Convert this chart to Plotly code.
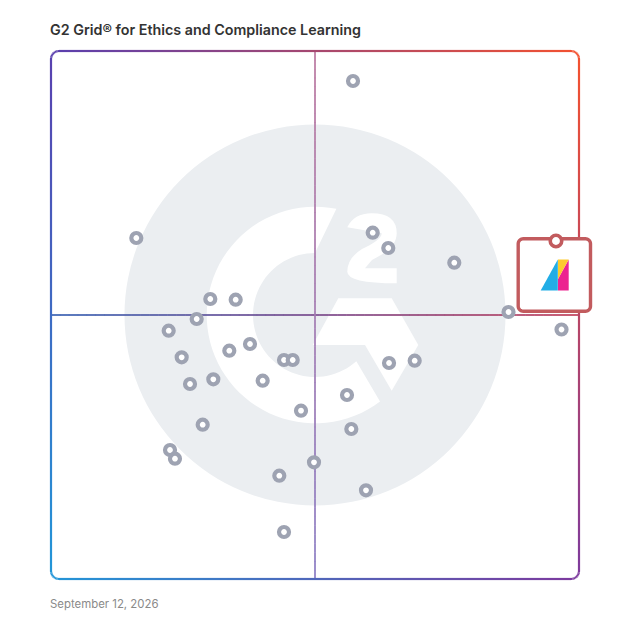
import numpy as np
import plotly.graph_objects as go

# G2 grid scores (satisfaction = x, market presence = y)
satisfaction = [57.20, 16.16, 60.93, 63.88, 76.38, 30.17, 34.98, 27.59, 22.29, 37.69, 33.77,
                24.75, 44.13, 45.78, 64.02, 68.88, 30.74, 26.33, 40.09, 56.06, 47.35, 28.73,
                56.88, 22.54, 23.48, 49.81, 43.24, 59.66, 44.13, 86.65, 96.69]
market_presence = [94.32, 64.58, 65.59, 62.69, 59.91, 53.03, 52.90, 49.24, 47.03, 44.51, 43.24,
                   41.99, 41.48, 41.48, 40.91, 41.34, 37.82, 36.93, 37.56, 34.85, 31.88, 29.22,
                   28.41, 24.43, 22.78, 22.10, 19.56, 16.80, 8.90, 50.57, 47.25]
highlight_x = [95.64]
highlight_y = [64.02]

title_text = "G2 Grid® for Ethics and Compliance Learning"
date_text = "September 12, 2026"

SIZE = 628
OFFSET = 8  # corpo da pagina tem margem de 8px
SCALE = 5.28


# pixel da imagem -> coordenada do eixo
def sx(px):
    return (px - 51) / SCALE


def sy(py):
    return (579 - py) / SCALE


def hex_rgb(c):
    return np.array([int(c[i:i + 2], 16) for i in (1, 3, 5)], dtype=float)


def mix(a, b, t):
    v = hex_rgb(a) * (1 - t) + hex_rgb(b) * t
    return "rgb(%d,%d,%d)" % tuple(v.round())


def frame_color(px, py):
    u = np.clip((px - 51) / 528, 0, 1)
    v = np.clip((py - 51) / 528, 0, 1)
    top = hex_rgb("#5a3fae") * (1 - u) + hex_rgb("#f4512f") * u
    bottom = hex_rgb("#2296d8") * (1 - u) + hex_rgb("#7c3a9e") * u
    c = top * (1 - v) + bottom * v
    return "rgb(%d,%d,%d)" % tuple(c.round())


def polygon(points):
    return "M " + " L ".join(f"{sx(x):.3f} {sy(y):.3f}" for x, y in points) + " Z"


def filled(path, color):
    return dict(type="path", path=path, fillcolor=color, line=dict(width=0), layer="below")


def segment(x0, y0, x1, y1, color, width):
    return dict(type="line", x0=sx(x0), y0=sy(y0), x1=sx(x1), y1=sy(y1), layer="below",
                line=dict(color=color, width=width))


def arc(cx, cy, r, a0, a1, n=60):
    ang = np.radians(np.linspace(a0, a1, n))
    return list(zip(cx + r * np.cos(ang), cy + r * np.sin(ang)))


def rounded_rect(x0, y0, x1, y1, r):
    pts = []
    pts += arc(x1 - r, y0 + r, r, -90, 0, 10)
    pts += arc(x1 - r, y1 - r, r, 0, 90, 10)
    pts += arc(x0 + r, y1 - r, r, 90, 180, 10)
    pts += arc(x0 + r, y0 + r, r, 180, 270, 10)
    return pts


shapes = []

# marca d'agua G2
shapes.append(dict(type="circle", x0=sx(124.5), x1=sx(505.5), y0=sy(124.5), y1=sy(505.5),
                   fillcolor="#ebeef1", line=dict(width=0), layer="below"))
g_outer = arc(315, 315, 108.3, -78.6, -306.9)
g_inner = arc(315, 315, 62, -311.8, -90)
shapes.append(filled(polygon(g_outer + g_inner), "#ffffff"))
shapes.append(filled(polygon([(338.3, 298.3), (391.7, 298.3), (418.3, 345), (391.7, 390.7),
                              (365, 345), (312.7, 345)]), "#ffffff"))
two = ("M {} {} Q {} {} {} {} Q {} {} {} {} Q {} {} {} {} L {} {} L {} {} L {} {} L {} {} "
       "Q {} {} {} {} Q {} {} {} {} Q {} {} {} {} Z")
two_pts = [(347.3, 227.3), (354, 213.3), (371.7, 213.3), (396.7, 213.3), (396.7, 233.3),
           (396.7, 246), (381, 255), (372, 260), (365, 268.3), (396.7, 268.3), (396.7, 283.3),
           (347.3, 283.3), (347.3, 271.7), (347.3, 258), (362, 249), (381.7, 240), (381.7, 233.3),
           (381.7, 227.3), (371.7, 227.3), (362, 227.3), (356.7, 236.7)]
flat = [f"{v:.3f}" for x, y in two_pts for v in (sx(x), sy(y))]
shapes.append(filled(two.format(*flat), "#ffffff"))

# cruz central
xs_h = np.linspace(51, 579, 60)
for a, b in zip(xs_h[:-1], xs_h[1:]):
    t = (a - 51) / 528
    c = mix("#3c64b4", "#7a4a8c", t * 2) if t < 0.5 else mix("#7a4a8c", "#c2405a", t * 2 - 1)
    shapes.append(segment(a, 315, b + 0.3, 315, c, 1.7))
ys_v = np.linspace(51, 579, 60)
for a, b in zip(ys_v[:-1], ys_v[1:]):
    t = (a - 51) / 528
    shapes.append(segment(315, a, 315, b + 0.3, mix("#bb78a0", "#8a7cc4", t), 1.7))

# moldura com gradiente
corners = rounded_rect(51, 51, 579, 579, 8)
for (x0, y0), (x1, y1) in zip(corners, corners[1:] + corners[:1]):
    steps = max(1, int(max(abs(x1 - x0), abs(y1 - y0)) / 8))
    for i in range(steps):
        ax, ay = x0 + (x1 - x0) * i / steps, y0 + (y1 - y0) * i / steps
        bx, by = x0 + (x1 - x0) * (i + 1) / steps, y0 + (y1 - y0) * (i + 1) / steps
        shapes.append(segment(ax, ay, bx, by, frame_color(ax, ay), 2.2))

# caixa do produto destacado e logo
shapes.append(dict(type="path", path=polygon(rounded_rect(518.2, 238.8, 590.5, 311.2, 5)),
                   fillcolor="#ffffff", line=dict(color="#c25b5e", width=3.4), layer="below"))
shapes.append(filled(polygon([(540.7, 290.5), (557.8, 259.5), (557.8, 290.5)]), "#22ade6"))
shapes.append(filled(polygon([(558, 290.5), (568.7, 290.5), (568.7, 259.5), (558, 279)]), "#ec2490"))
shapes.append(filled(polygon([(558, 259.5), (568.7, 259.5), (558, 279)]), "#fdcb2e"))

fig = go.Figure()

fig.add_trace(go.Scatter(x=satisfaction, y=market_presence, mode="markers", showlegend=False,
                         marker=dict(size=10, color="#ffffff", line=dict(color="#9ea3b2", width=4.2))))
fig.add_trace(go.Scatter(x=highlight_x, y=highlight_y, mode="markers", showlegend=False,
                         marker=dict(size=11.5, color="#ffffff", line=dict(color="#c25b5e", width=3.6))))

fig.update_layout(
    width=SIZE, height=SIZE,
    margin=dict(l=0, r=0, t=0, b=0),
    paper_bgcolor="#ffffff", plot_bgcolor="rgba(0,0,0,0)",
    shapes=shapes,
    xaxis=dict(range=[sx(OFFSET), sx(SIZE + OFFSET)], visible=False),
    yaxis=dict(range=[sy(SIZE + OFFSET), sy(OFFSET)], visible=False),
    annotations=[
        dict(text=title_text, x=sx(48), y=sy(29.5), xref="x", yref="y", xanchor="left", yanchor="middle",
             showarrow=False, font=dict(family="Inter", size=14.3, color="#333333", weight=600)),
        dict(text=date_text, x=sx(48), y=sy(604), xref="x", yref="y", xanchor="left", yanchor="middle",
             showarrow=False, font=dict(family="Inter", size=11.4, color="#8a8a8a")),
    ],
)

fig.write_html("out.html")
